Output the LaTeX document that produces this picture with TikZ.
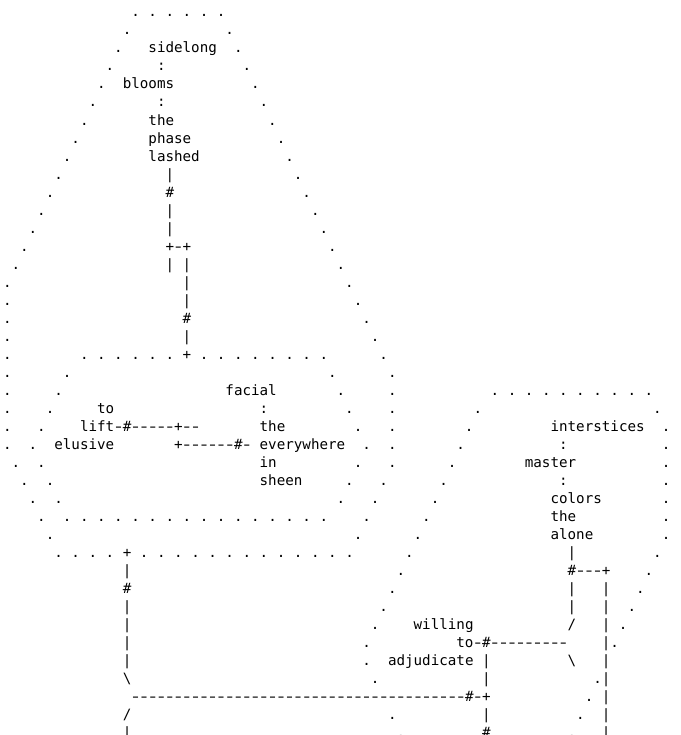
\documentclass[tikz,border=0pt]{standalone}
\usepackage{graphicx}
\usepackage{fontspec}
\setmonofont{DejaVu Sans Mono}
\newcommand\asciifont{\ttfamily\fontsize{10.66pt}{13.5pt}\selectfont\frenchspacing}
\newcommand\hy{\makebox[0.60205em][c]{\scalebox{1.4}[1]{-}}}
\newcommand\hyten{\hy\hy\hy\hy\hy\hy\hy\hy\hy\hy}
\tikzset{txt/.style={anchor=base west, inner sep=0pt, outer sep=0pt, font=\asciifont, text=black}}
\newcommand\gl[3]{\node[txt] (n#2x#1) at ({3.0225+8.555*#1},{-17-18*#2}) {#3};}
\begin{document}
\begin{tikzpicture}[x=0.75pt,y=0.75pt]
\fill[white] (0,0) rectangle (681,-735);
\useasboundingbox (0,0) rectangle (681,-735);
% row 0-18
\gl{15}{0}{. . . . . .}
\gl{14}{1}{.}\gl{26}{1}{.}
\gl{13}{2}{.}\gl{17}{2}{sidelong}\gl{27}{2}{.}
\gl{12}{3}{.}\gl{18}{3}{:}\gl{28}{3}{.}
\gl{11}{4}{.}\gl{14}{4}{blooms}\gl{29}{4}{.}
\gl{10}{5}{.}\gl{18}{5}{:}\gl{30}{5}{.}
\gl{9}{6}{.}\gl{17}{6}{the}\gl{31}{6}{.}
\gl{8}{7}{.}\gl{17}{7}{phase}\gl{32}{7}{.}
\gl{7}{8}{.}\gl{17}{8}{lashed}\gl{33}{8}{.}
\gl{6}{9}{.}\gl{19}{9}{|}\gl{34}{9}{.}
\gl{5}{10}{.}\gl{19}{10}{\#}\gl{35}{10}{.}
\gl{4}{11}{.}\gl{19}{11}{|}\gl{36}{11}{.}
\gl{3}{12}{.}\gl{19}{12}{|}\gl{37}{12}{.}
\gl{2}{13}{.}\gl{19}{13}{+\hy+}\gl{38}{13}{.}
\gl{1}{14}{.}\gl{19}{14}{| |}\gl{39}{14}{.}
\gl{0}{15}{.}\gl{21}{15}{|}\gl{40}{15}{.}
\gl{0}{16}{.}\gl{21}{16}{|}\gl{41}{16}{.}
\gl{0}{17}{.}\gl{21}{17}{\#}\gl{42}{17}{.}
\gl{0}{18}{.}\gl{21}{18}{|}\gl{43}{18}{.}
% row 19-30
\gl{0}{19}{.}\gl{9}{19}{. . . . . . + . . . . . . . .}\gl{44}{19}{.}
\gl{0}{20}{.}\gl{7}{20}{.}\gl{38}{20}{.}\gl{45}{20}{.}
\gl{0}{21}{.}\gl{6}{21}{.}\gl{26}{21}{facial}\gl{39}{21}{.}\gl{45}{21}{.}\gl{57}{21}{. . . . . . . . . .}
\gl{0}{22}{.}\gl{5}{22}{.}\gl{11}{22}{to}\gl{30}{22}{:}\gl{40}{22}{.}\gl{45}{22}{.}\gl{55}{22}{.}\gl{76}{22}{.}
\gl{0}{23}{.}\gl{4}{23}{.}\gl{9}{23}{lift\hy\#\hy\hy\hy\hy\hy+\hy\hy}\gl{30}{23}{the}\gl{41}{23}{.}\gl{45}{23}{.}\gl{54}{23}{.}\gl{64}{23}{interstices}\gl{77}{23}{.}
\gl{0}{24}{.}\gl{3}{24}{.}\gl{6}{24}{elusive}\gl{20}{24}{+\hy\hy\hy\hy\hy\hy\#\hy}\gl{30}{24}{everywhere}\gl{42}{24}{.}\gl{45}{24}{.}\gl{53}{24}{.}\gl{65}{24}{:}\gl{77}{24}{.}
\gl{1}{25}{.}\gl{4}{25}{.}\gl{30}{25}{in}\gl{41}{25}{.}\gl{45}{25}{.}\gl{52}{25}{.}\gl{61}{25}{master}\gl{77}{25}{.}
\gl{2}{26}{.}\gl{5}{26}{.}\gl{30}{26}{sheen}\gl{40}{26}{.}\gl{44}{26}{.}\gl{51}{26}{.}\gl{65}{26}{:}\gl{77}{26}{.}
\gl{3}{27}{.}\gl{6}{27}{.}\gl{39}{27}{.}\gl{43}{27}{.}\gl{50}{27}{.}\gl{64}{27}{colors}\gl{77}{27}{.}
\gl{4}{28}{.}\gl{7}{28}{. . . . . . . . . . . . . . . .}\gl{42}{28}{.}\gl{49}{28}{.}\gl{64}{28}{the}\gl{77}{28}{.}
\gl{5}{29}{.}\gl{41}{29}{.}\gl{48}{29}{.}\gl{64}{29}{alone}\gl{77}{29}{.}
\gl{6}{30}{. . . . + . . . . . . . . . . . . .}\gl{47}{30}{.}\gl{66}{30}{|}\gl{76}{30}{.}
% row 31-40
\gl{14}{31}{|}\gl{46}{31}{.}\gl{66}{31}{\#\hy\hy\hy+}\gl{75}{31}{.}
\gl{14}{32}{\#}\gl{45}{32}{.}\gl{66}{32}{|}\gl{70}{32}{|}\gl{74}{32}{.}
\gl{14}{33}{|}\gl{44}{33}{.}\gl{66}{33}{|}\gl{70}{33}{|}\gl{73}{33}{.}
\gl{14}{34}{|}\gl{43}{34}{.}\gl{48}{34}{willing}\gl{66}{34}{/}\gl{70}{34}{|}\gl{72}{34}{.}
\gl{14}{35}{|}\gl{42}{35}{.}\gl{53}{35}{to\hy\#\hy\hy\hy\hy\hy\hy\hy\hy\hy}\gl{70}{35}{|.}
\gl{14}{36}{|}\gl{42}{36}{.}\gl{45}{36}{adjudicate}\gl{56}{36}{|}\gl{66}{36}{\textbackslash}\gl{70}{36}{|}
\gl{14}{37}{\textbackslash}\gl{43}{37}{.}\gl{56}{37}{|}\gl{69}{37}{.|}
\gl{15}{38}{\hyten\hyten\hyten\hy\hy\hy\hy\hy\hy\hy\hy\hy\#\hy+}\gl{68}{38}{.}\gl{70}{38}{|}
\gl{14}{39}{/}\gl{45}{39}{.}\gl{56}{39}{|}\gl{67}{39}{.}\gl{70}{39}{|}
\gl{14}{40}{|}\gl{46}{40}{.}\gl{56}{40}{\#}\gl{66}{40}{.}\gl{70}{40}{|}
\end{tikzpicture}
\end{document}
